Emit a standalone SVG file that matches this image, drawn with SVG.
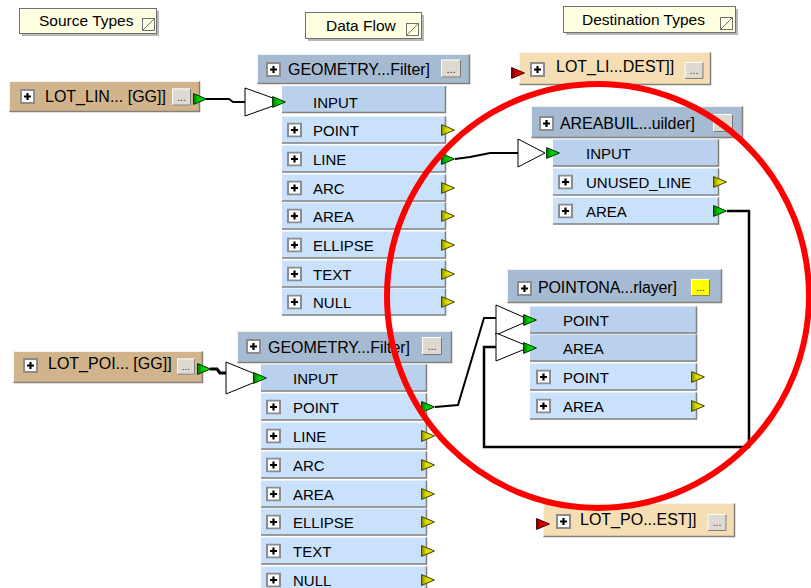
<svg xmlns="http://www.w3.org/2000/svg" xmlns:xlink="http://www.w3.org/1999/xlink" width="811" height="588" viewBox="0 0 811 588">
<style>
.bg{fill:#fff}
.hdr{fill:#a6bad2}
.in{fill:#b9d1ec}
.out{fill:#c9e1fb}
.src{fill:#d2b48c}
.dst{fill:#f5deb3}
.note{fill:#ffffe1;stroke:#707070;stroke-width:1}
.shd{fill:#b8b8b8}
.hi{fill:none;stroke:#f4f4f4;stroke-width:1}
.lo{fill:none;stroke:#85817a;stroke-width:1.5}
.t{font-family:"Liberation Sans",Arial,sans-serif;font-size:15px;fill:#000}
.l{font-family:"Liberation Sans",Arial,sans-serif;font-size:16px;fill:#000}
.n{font-family:"Liberation Sans",Arial,sans-serif;font-size:15.5px;fill:#000}
.wire{fill:none;stroke:#000;stroke-width:2}
.tri{fill:#fff;stroke:#000;stroke-width:1}
.ring{fill:none;stroke:#ff0000;stroke-width:6}
</style>
<defs>
<linearGradient id="gg" x1="0" y1="0" x2="1" y2="0"><stop offset="0" stop-color="#007800"/><stop offset="0.35" stop-color="#00c800"/><stop offset="1" stop-color="#10e010"/></linearGradient>
<linearGradient id="yg" x1="0" y1="0" x2="1" y2="0"><stop offset="0" stop-color="#8a8a00"/><stop offset="0.35" stop-color="#d8d800"/><stop offset="1" stop-color="#f4f400"/></linearGradient>
<linearGradient id="rg" x1="0" y1="0" x2="1" y2="0"><stop offset="0" stop-color="#800000"/><stop offset="0.35" stop-color="#d00000"/><stop offset="1" stop-color="#f01010"/></linearGradient>
<symbol id="plus" viewBox="0 0 15 15"><rect width="15" height="15" fill="#8c8c8c"/><rect x="2" y="2" width="11" height="11" fill="#fff"/><path d="M4 7.5H11M7.5 4V11" stroke="#000" stroke-width="2.2"/></symbol>
<symbol id="btn" viewBox="0 0 20 18"><rect width="20" height="18" fill="#dedad2"/><path d="M0.5 17.5V0.5H19.5" stroke="#fff" fill="none"/><path d="M0.5 17.5H19.5V0.5" stroke="#7c7870" fill="none"/><text x="10" y="13" text-anchor="middle" font-family="Liberation Sans,Arial,sans-serif" font-size="11" fill="#333">...</text></symbol>
<symbol id="ybtn" viewBox="0 0 20 18"><rect width="20" height="18" fill="#ffff00"/><path d="M0.5 17.5V0.5H19.5" stroke="#fff" fill="none"/><path d="M0.5 17.5H19.5V0.5" stroke="#7c7870" fill="none"/><text x="10" y="13" text-anchor="middle" font-family="Liberation Sans,Arial,sans-serif" font-size="11" fill="#333">...</text></symbol>
<symbol id="ga" viewBox="0 0 14 12"><polygon points="0.6,0.6 13.4,6 0.6,11.4" fill="url(#gg)" stroke="#003000" stroke-width="1"/></symbol>
<symbol id="ya" viewBox="0 0 14 12"><polygon points="0.6,0.6 13.4,6 0.6,11.4" fill="url(#yg)" stroke="#404000" stroke-width="1"/></symbol>
<symbol id="ra" viewBox="0 0 14 12"><polygon points="0.6,0.6 13.4,6 0.6,11.4" fill="url(#rg)" stroke="#400000" stroke-width="1"/></symbol>
<symbol id="fold" viewBox="0 0 13 13"><rect x="0.5" y="0.5" width="12" height="12" fill="#ffffe1" stroke="#707070"/><path d="M1 12L12 1" stroke="#707070"/></symbol>
</defs>
<rect class="bg" width="811" height="588"/>

<!-- notes -->
<g id="note_source">
<rect class="shd" x="22" y="11" width="137" height="25"/>
<rect class="note" x="19.5" y="8.5" width="137" height="25"/>
<text class="n" x="39" y="26">Source Types</text>
<use href="#fold" x="142" y="18" width="13" height="13"/>
</g>
<g id="note_dataflow">
<rect class="shd" x="308" y="15" width="116" height="26"/>
<rect class="note" x="305.5" y="12.5" width="116" height="26"/>
<text class="n" x="326" y="31">Data Flow</text>
<use href="#fold" x="406" y="23" width="13" height="13"/>
</g>
<g id="note_dest">
<rect class="shd" x="566" y="9" width="172" height="26"/>
<rect class="note" x="563.5" y="6.5" width="172" height="26"/>
<text class="n" x="582" y="25">Destination Types</text>
<use href="#fold" x="720" y="17" width="13" height="13"/>
</g>

<!-- connectors -->
<g id="connectors">
<path class="wire" d="M205,99 H229 L233,102 H246"/>
<path class="wire" style="stroke-width:3" d="M210,369 H217 L220,373 H227"/>
<path class="wire" d="M455,159 L470,157 L490,153 H519"/>
<path class="wire" d="M435,407 L458,405 L484,318 H497"/>
<path class="wire" style="stroke-width:2.5" d="M727,211 H749 V447 H484 V347 H497"/>
</g>

<!-- source nodes -->
<g id="src_lot_lin">
<rect class="src" x="9" y="81" width="191" height="31"/>
<path class="hi" d="M9.5,111.5 V81.5 H199.5"/>
<path class="lo" d="M9.5,111.5 H199.5 V81.5"/>
<use href="#plus" x="20" y="89" width="15" height="15"/>
<text class="l" x="45" y="102">LOT_LIN... [GG]]</text>
<use href="#btn" x="172" y="88" width="19" height="18"/>
<use href="#ga" x="193" y="93" width="14" height="12"/>
</g>
<g id="src_lot_poi">
<rect class="src" x="13" y="351" width="190" height="32"/>
<path class="hi" d="M13.5,382.5 V351.5 H202.5"/>
<path class="lo" d="M13.5,382.5 H202.5 V351.5"/>
<use href="#plus" x="23" y="358" width="15" height="15"/>
<text class="l" x="48" y="369">LOT_POI... [GG]]</text>
<use href="#btn" x="177" y="358" width="18" height="17"/>
<use href="#ga" x="197" y="363" width="14" height="12"/>
</g>

<!-- geometry filter 1 -->
<g id="geomfilter1">
<rect class="hdr" x="257" y="54" width="213" height="30"/>
<path class="hi" d="M257.5,83.5 V54.5 H469.5"/>
<path class="lo" d="M257.5,83.5 H469.5 V54.5"/>
<use href="#plus" x="266" y="62" width="15" height="15"/>
<text class="l" x="288" y="75" textLength="142">GEOMETRY...Filter]</text>
<use href="#btn" x="441" y="59" width="20" height="19"/>
<polygon class="tri" points="245,88 245,116 284,102"/>
<rect class="in" x="282" y="86" width="164" height="27"/>
<path class="lo" d="M282,112.5 H445.5 V86"/>
<text class="t" x="313" y="107.5">INPUT</text>
<use href="#ga" x="272" y="96" width="14" height="12"/>
<rect class="out" x="282" y="116.5" width="164" height="27"/><path class="lo" d="M282,143 H445.5 V116.5"/><use href="#plus" x="287" y="122.5" width="15" height="15"/><text class="t" x="313" y="135.5">POINT</text><use href="#ya" x="441" y="124" width="14" height="12"/>
<rect class="out" x="282" y="145.5" width="164" height="27"/><path class="lo" d="M282,172 H445.5 V145.5"/><use href="#plus" x="287" y="151.5" width="15" height="15"/><text class="t" x="313" y="164.5">LINE</text><use href="#ga" x="441" y="153" width="14" height="12"/>
<rect class="out" x="282" y="174.5" width="164" height="27"/><path class="lo" d="M282,201 H445.5 V174.5"/><use href="#plus" x="287" y="180.5" width="15" height="15"/><text class="t" x="313" y="193.5">ARC</text><use href="#ya" x="441" y="182" width="14" height="12"/>
<rect class="out" x="282" y="202.5" width="164" height="27"/><path class="lo" d="M282,229 H445.5 V202.5"/><use href="#plus" x="287" y="208.5" width="15" height="15"/><text class="t" x="313" y="221.5">AREA</text><use href="#ya" x="441" y="210" width="14" height="12"/>
<rect class="out" x="282" y="231.5" width="164" height="27"/><path class="lo" d="M282,258 H445.5 V231.5"/><use href="#plus" x="287" y="237.5" width="15" height="15"/><text class="t" x="313" y="250.5">ELLIPSE</text><use href="#ya" x="441" y="239" width="14" height="12"/>
<rect class="out" x="282" y="260.5" width="164" height="27"/><path class="lo" d="M282,287 H445.5 V260.5"/><use href="#plus" x="287" y="266.5" width="15" height="15"/><text class="t" x="313" y="279.5">TEXT</text><use href="#ya" x="441" y="268" width="14" height="12"/>
<rect class="out" x="282" y="288.5" width="164" height="27"/><path class="lo" d="M282,315 H445.5 V288.5"/><use href="#plus" x="287" y="294.5" width="15" height="15"/><text class="t" x="313" y="307.5">NULL</text><use href="#ya" x="441" y="296" width="14" height="12"/>
</g>

<!-- geometry filter 2 -->
<g id="geomfilter2">
<rect class="hdr" x="237" y="331" width="215" height="32"/>
<path class="hi" d="M237.5,362.5 V331.5 H451.5"/>
<path class="lo" d="M237.5,362.5 H451.5 V331.5"/>
<use href="#plus" x="246" y="339" width="15" height="15"/>
<text class="l" x="268" y="353" textLength="142">GEOMETRY...Filter]</text>
<use href="#btn" x="422" y="336" width="20" height="20"/>
<polygon class="tri" points="226,362 226,394 265,378"/>
<rect class="in" x="261" y="364.5" width="166" height="27"/>
<path class="lo" d="M261,391 H426.5 V364.5"/>
<text class="t" x="293" y="383.5">INPUT</text>
<use href="#ga" x="253" y="372" width="14" height="12"/>
<rect class="out" x="261" y="393.5" width="166" height="27"/><path class="lo" d="M261,420 H426.5 V393.5"/><use href="#plus" x="266" y="399.5" width="15" height="15"/><text class="t" x="293" y="412.5">POINT</text><use href="#ga" x="421" y="401" width="14" height="12"/>
<rect class="out" x="261" y="422.5" width="166" height="27"/><path class="lo" d="M261,449 H426.5 V422.5"/><use href="#plus" x="266" y="428.5" width="15" height="15"/><text class="t" x="293" y="441.5">LINE</text><use href="#ya" x="421" y="430" width="14" height="12"/>
<rect class="out" x="261" y="451.5" width="166" height="27"/><path class="lo" d="M261,478 H426.5 V451.5"/><use href="#plus" x="266" y="457.5" width="15" height="15"/><text class="t" x="293" y="470.5">ARC</text><use href="#ya" x="421" y="459" width="14" height="12"/>
<rect class="out" x="261" y="480.5" width="166" height="27"/><path class="lo" d="M261,507 H426.5 V480.5"/><use href="#plus" x="266" y="486.5" width="15" height="15"/><text class="t" x="293" y="499.5">AREA</text><use href="#ya" x="421" y="488" width="14" height="12"/>
<rect class="out" x="261" y="508.5" width="166" height="27"/><path class="lo" d="M261,535 H426.5 V508.5"/><use href="#plus" x="266" y="514.5" width="15" height="15"/><text class="t" x="293" y="527.5">ELLIPSE</text><use href="#ya" x="421" y="516" width="14" height="12"/>
<rect class="out" x="261" y="537.5" width="166" height="27"/><path class="lo" d="M261,564 H426.5 V537.5"/><use href="#plus" x="266" y="543.5" width="15" height="15"/><text class="t" x="293" y="556.5">TEXT</text><use href="#ya" x="421" y="545" width="14" height="12"/>
<rect class="out" x="261" y="566.5" width="166" height="27"/><path class="lo" d="M261,593 H426.5 V566.5"/><use href="#plus" x="266" y="572.5" width="15" height="15"/><text class="t" x="293" y="585.5">NULL</text><use href="#ya" x="421" y="574" width="14" height="12"/>
</g>

<!-- destination nodes -->
<g id="dst_lot_li">
<rect class="dst" x="519" y="52" width="192" height="33"/>
<path class="hi" d="M519.5,84.5 V52.5 H710.5"/>
<path class="lo" d="M519.5,84.5 H710.5 V52.5"/>
<use href="#plus" x="530" y="62" width="15" height="15"/>
<text class="l" x="556" y="72">LOT_LI...DEST]]</text>
<use href="#btn" x="684" y="62" width="20" height="17"/>
<use href="#ra" x="511" y="67" width="14" height="12"/>
</g>
<g id="dst_lot_po">
<rect class="dst" x="543" y="503" width="192" height="34"/>
<path class="hi" d="M543.5,536.5 V503.5 H734.5"/>
<path class="lo" d="M543.5,536.5 H734.5 V503.5"/>
<use href="#plus" x="556" y="514" width="15" height="15"/>
<text class="l" x="580" y="525">LOT_PO...EST]]</text>
<use href="#btn" x="707" y="514" width="20" height="17"/>
<use href="#ra" x="536" y="518" width="14" height="12"/>
</g>

<!-- area builder -->
<g id="areabuilder">
<rect class="hdr" x="531" y="106" width="212" height="32"/>
<path class="hi" d="M531.5,137.5 V106.5 H742.5"/>
<path class="lo" d="M531.5,137.5 H742.5 V106.5"/>
<use href="#plus" x="539" y="116" width="15" height="15"/>
<text class="l" x="560" y="128.5" textLength="135">AREABUIL...uilder]</text>
<use href="#btn" x="713" y="114" width="20" height="18"/>
<polygon class="tri" points="518,139 518,167 545,153"/>
<rect class="in" x="553" y="139.5" width="166" height="27"/>
<path class="lo" d="M553,166 H718.5 V139.5"/>
<text class="t" x="586" y="158.5">INPUT</text>
<use href="#ga" x="546" y="147" width="14" height="12"/>
<rect class="out" x="553" y="168.5" width="166" height="27"/><path class="lo" d="M553,195 H718.5 V168.5"/><use href="#plus" x="558" y="174.5" width="15" height="15"/><text class="t" x="586" y="187.5">UNUSED_LINE</text><use href="#ya" x="713" y="176" width="14" height="12"/>
<rect class="out" x="553" y="197.5" width="166" height="27"/><path class="lo" d="M553,224 H718.5 V197.5"/><use href="#plus" x="558" y="203.5" width="15" height="15"/><text class="t" x="586" y="216.5">AREA</text><use href="#ga" x="713" y="205" width="14" height="12"/>
</g>

<!-- point on area overlayer -->
<g id="pointonarea">
<rect class="hdr" x="507" y="269" width="215" height="34"/>
<path class="hi" d="M507.5,302.5 V269.5 H721.5"/>
<path class="lo" d="M507.5,302.5 H721.5 V269.5"/>
<use href="#plus" x="517" y="281" width="15" height="15"/>
<text class="l" x="538" y="292.5" textLength="139">POINTONA...rlayer]</text>
<use href="#ybtn" x="691" y="278" width="19" height="19"/>
<polygon class="tri" points="496,305 496,335 530,320"/>
<polygon class="tri" points="496,333 496,361 530,347"/>
<rect class="in" x="530" y="306.5" width="167" height="27"/><path class="lo" d="M530,333 H696.5 V306.5"/><text class="t" x="563" y="325.5">POINT</text>
<rect class="in" x="530" y="334.5" width="167" height="27"/><path class="lo" d="M530,361 H696.5 V334.5"/><text class="t" x="563" y="353.5">AREA</text>
<use href="#ga" x="523" y="314" width="14" height="12"/>
<use href="#ga" x="523" y="342" width="14" height="12"/>
<rect class="out" x="530" y="363.5" width="167" height="27"/><path class="lo" d="M530,390 H696.5 V363.5"/><use href="#plus" x="536" y="369.5" width="15" height="15"/><text class="t" x="563" y="382.5">POINT</text><use href="#ya" x="691" y="371" width="14" height="12"/>
<rect class="out" x="530" y="392.5" width="167" height="27"/><path class="lo" d="M530,419 H696.5 V392.5"/><use href="#plus" x="536" y="398.5" width="15" height="15"/><text class="t" x="563" y="411.5">AREA</text><use href="#ya" x="691" y="400" width="14" height="12"/>
</g>

<ellipse class="ring" cx="598" cy="296" rx="211" ry="212"/>
</svg>
